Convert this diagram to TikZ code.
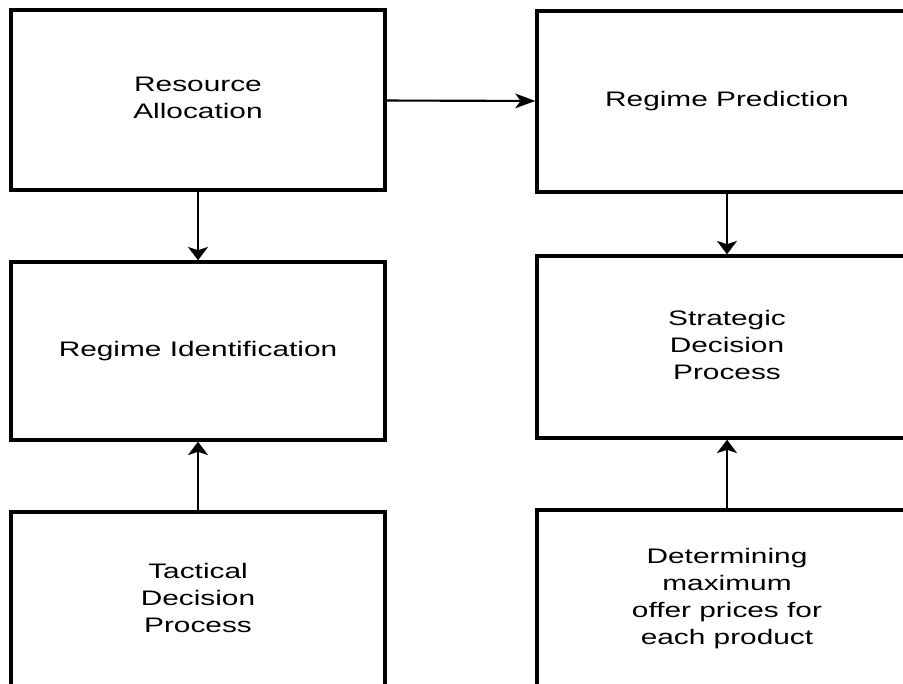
\documentclass[tikz,border=0pt]{standalone}
\usepackage{fontspec}
\setmainfont{Liberation Sans}
\usetikzlibrary{positioning,arrows.meta}
\newcommand{\widetext}[1]{\scalebox{1.42}[1]{\begin{tabular}{@{}c@{}}#1\end{tabular}}}

\begin{document}
\begin{tikzpicture}[
    x=0.75pt, y=-0.75pt,
    box/.style={draw, line width=2.6pt, inner sep=0pt, align=center, font=\fontsize{15.75pt}{20.25pt}\selectfont},
    lbox/.style={box, minimum width=280.5pt},
    rbox/.style={box, minimum width=285pt},
    harrow/.style={-{Stealth[length=15pt, width=11pt, inset=4pt]}, line width=1.6pt},
    varrow/.style={-{Stealth[length=10pt, width=15pt, inset=2.5pt]}, line width=2.2pt}
  ]
    \useasboundingbox (0,0) rectangle (903,684);

    \node[lbox, minimum height=135pt] (alloc) at (198,100) {\widetext{Resource\\Allocation}};
    \node[lbox, minimum height=133.5pt] (ident) at (198,351) {\widetext{Regime Identification}};
    \node[lbox, minimum height=132pt] (tactic) at (198,600) {\widetext{Tactical\\Decision\\Process}};

    \node[rbox, minimum height=135.75pt] (predict) at (727,101.5) {\widetext{Regime Prediction}};
    \node[rbox, minimum height=136.5pt] (strat) at (727,347) {\widetext{Strategic\\Decision\\Process}};
    \node[rbox, minimum height=133.5pt] (offer) at (727,599) {\widetext{Determining\\maximum\\offer prices for\\each product}};

    \draw[harrow] (alloc) -- (predict);
    \draw[varrow] (alloc) -- (ident);
    \draw[varrow] (tactic) -- (ident);
    \draw[varrow] (predict) -- (strat);
    \draw[varrow] (offer) -- (strat);
\end{tikzpicture}
\end{document}
